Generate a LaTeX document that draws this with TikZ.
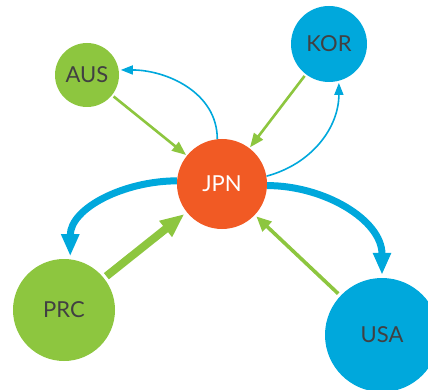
\documentclass[tikz,border=0pt]{standalone}
\usepackage{fontspec}
\setmainfont{Lato}
\usetikzlibrary{arrows.meta}
\definecolor{cgreen}{HTML}{8DC63F}
\definecolor{cblue}{HTML}{00A8DC}
\definecolor{corange}{HTML}{F15A24}
\definecolor{ctext}{HTML}{414042}
\begin{document}
\begin{tikzpicture}[x=1pt,y=-1pt,
  country/.style={circle, inner sep=0pt, font=\fontsize{22}{26}\selectfont, text=ctext},
  thinblue/.style={draw=cblue, line width=1.6pt, -{Triangle[length=12pt,width=9pt]}, shorten >=2pt},
  thingreen/.style={draw=cgreen, line width=2.6pt, -{Triangle[length=14pt,width=11pt]}, shorten >=1pt, shorten <=2pt},
  medgreen/.style={draw=cgreen, line width=3.6pt, -{Triangle[length=15pt,width=13pt]}, shorten >=2pt, shorten <=3pt},
  thickgreen/.style={draw=cgreen, line width=8pt, -{Triangle[length=24pt,width=19pt]}, shorten >=3pt, shorten <=3pt},
  thickblue/.style={draw=cblue, line width=7pt, -{Triangle[length=22pt,width=17pt]}, shorten >=3pt},
]
\useasboundingbox (0,0) rectangle (428,390);
\clip (0,0) rectangle (428,390);
\node[country, fill=cgreen, minimum size=64pt] (AUS) at (87,75) {AUS};
\node[country, fill=cblue, minimum size=76pt] (KOR) at (329,44) {KOR};
\node[country, fill=corange, minimum size=90pt, text=white] (JPN) at (222,184) {JPN};
\node[country, fill=cgreen, minimum size=102pt] (PRC) at (64,310) {PRC};
\node[country, fill=cblue, minimum size=114pt] (USA) at (382,335) {USA};

\draw[thingreen] (AUS) -- (JPN);
\draw[thingreen] (KOR) -- (JPN);
\draw[thickgreen] (PRC) -- (JPN);
\draw[medgreen] (USA) -- (JPN);

\draw[thinblue] (JPN.96) to[out=90, in=0] (AUS.9);
\draw[thinblue] (JPN.10) to[out=15, in=-90] (KOR.-75);
\draw[thickblue] (JPN.176) to[out=180, in=90] (PRC.83);
\draw[thickblue] (JPN.-2) to[out=0, in=90] (USA.90);
\end{tikzpicture}
\end{document}
